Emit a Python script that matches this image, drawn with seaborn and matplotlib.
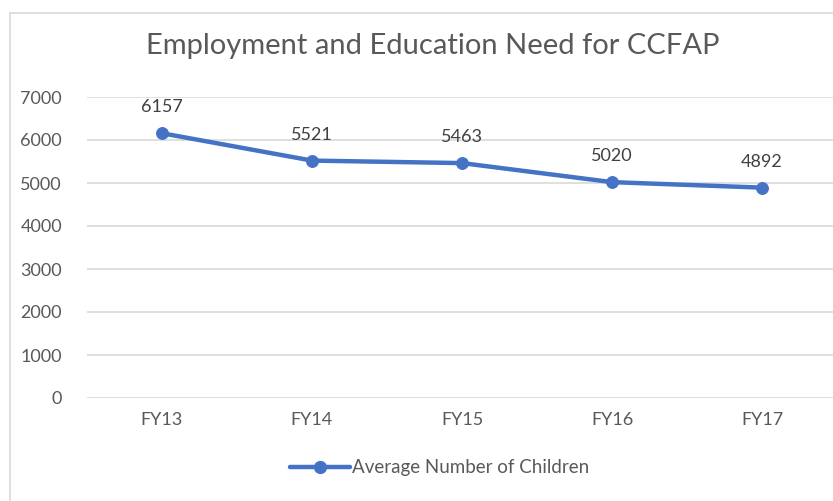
import matplotlib
matplotlib.use("Agg")
import matplotlib.pyplot as plt
import seaborn as sns
import pandas as pd
from matplotlib.patches import Rectangle
from matplotlib.lines import Line2D

categories = ["FY13", "FY14", "FY15", "FY16", "FY17"]
values = [6157, 5521, 5463, 5020, 4892]
series_name = "Average Number of Children"
title = "Employment and Education Need for CCFAP"
yticks = [0, 1000, 2000, 3000, 4000, 5000, 6000, 7000]

sns.set_theme(style="white")
plt.rcParams['font.family'] = ['Lato', 'DejaVu Sans']

W, H = 833, 501
fig = plt.figure(figsize=(W / 100, H / 100), dpi=100)
ax = fig.add_axes([87 / W, (H - 398) / H, 750 / W, 301 / H])

df = pd.DataFrame({"cat": categories, "val": values})
color = "#4472C4"
sns.lineplot(data=df, x="cat", y="val", ax=ax, color=color, lw=3.2,
             marker="o", markersize=8.5, markeredgecolor=color, sort=False)

ax.set_xlim(-0.5, len(categories) - 0.5)
ax.set_ylim(0, 7000)
ax.set_yticks(yticks)
ax.set_yticklabels([str(t) for t in yticks])
ax.grid(axis="y", color="#D9D9D9", lw=1.2)
ax.set_axisbelow(True)
for s in ax.spines.values():
    s.set_visible(False)
ax.tick_params(axis="both", length=0, labelsize=13, colors="#595959")
ax.tick_params(axis="y", pad=18)
ax.tick_params(axis="x", pad=10)
ax.set_xlabel("")
ax.set_ylabel("")

for i, v in enumerate(values):
    ax.annotate(str(v), (i, v), xytext=(0, 13), textcoords="offset points",
                ha="center", va="bottom", fontsize=13, color="#404040")

fig.text(433 / W, 1 - 46 / H, title, ha="center", va="center",
         fontsize=21, color="#595959")

handle = Line2D([], [], color=color, lw=3.2, marker="o", markersize=8.5)
fig.legend([handle], [series_name], loc="center", bbox_to_anchor=(440 / W, 1 - 468 / H),
           frameon=False, fontsize=13.5, labelcolor="#595959", handlelength=3.2,
           handletextpad=0.1)

fig.patches.append(Rectangle((10 / W, -0.1), 1.2, 1 - 13 / H + 0.1, transform=fig.transFigure,
                             fill=False, edgecolor="#D9D9D9", lw=1.2, zorder=-1))

fig.savefig("out.png", dpi=100)
